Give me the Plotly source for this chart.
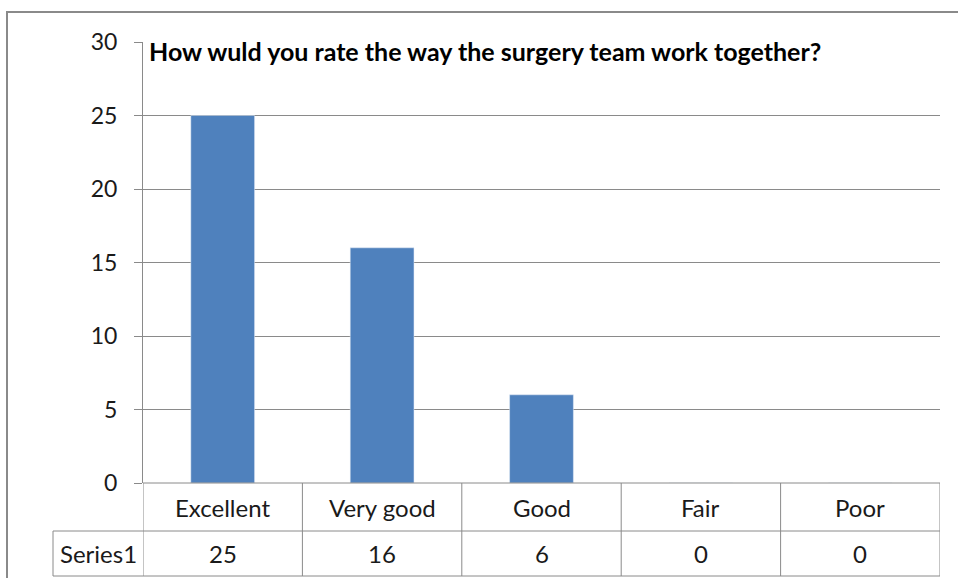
import plotly.graph_objects as go

categories = ["Excellent", "Very good", "Good", "Fair", "Poor"]
values = [25, 16, 6, 0, 0]
series_name = "Series1"
title_text = "How wuld you rate the way the surgery team work together?"
y_ticks = [0, 5, 10, 15, 20, 25, 30]

FONT = "Lato, 'Open Sans', sans-serif"
GRID = "#8a8a8a"
TXT = "#1a1a1a"

W, H = 958, 578
L, T = 143, 42
pw, ph = 797, 441
R = W - L - pw
B = H - T - ph

def py(pix):  # screenshot pixel -> paper y
    return (483 - pix) / ph

def px(pix):  # screenshot pixel -> paper x
    return (pix - 143) / pw

fig = go.Figure()
fig.add_trace(go.Bar(x=list(range(len(categories))), y=values, marker_color="#4F81BD",
                     width=0.4, name=series_name, showlegend=False))

shapes = []
# outer chart frame (only top and left edges visible)
shapes.append(dict(type="line", xref="paper", yref="paper", x0=px(6), x1=px(960), y0=py(12), y1=py(12),
                   line=dict(color="#8a8a8a", width=2), layer="below"))
shapes.append(dict(type="line", xref="paper", yref="paper", x0=px(7), x1=px(7), y0=py(11), y1=py(580),
                   line=dict(color="#8a8a8a", width=2), layer="below"))
row1 = py(531)
row2 = py(576)
for i in range(len(categories) + 1):
    shapes.append(dict(type="line", xref="x", yref="paper", x0=i - 0.5, x1=i - 0.5, y0=0, y1=row2,
                       line=dict(color=GRID, width=1)))
for yy in (row1, row2):
    shapes.append(dict(type="line", xref="paper", yref="paper", x0=px(53), x1=1, y0=yy, y1=yy,
                       line=dict(color=GRID, width=1)))
shapes.append(dict(type="line", xref="paper", yref="paper", x0=px(53), x1=px(53), y0=row1, y1=row2,
                   line=dict(color=GRID, width=1)))
shapes.append(dict(type="line", xref="paper", yref="paper", x0=0, x1=1, y0=0, y1=0,
                   line=dict(color=GRID, width=1)))

annotations = []
for i, (c, v) in enumerate(zip(categories, values)):
    annotations.append(dict(x=i, y=py(507), xref="x", yref="paper", text=c, showarrow=False,
                            xanchor="center", yanchor="middle",
                            font=dict(family=FONT, size=24, color=TXT)))
    annotations.append(dict(x=i, y=py(553), xref="x", yref="paper", text=str(v), showarrow=False,
                            xanchor="center", yanchor="middle",
                            font=dict(family=FONT, size=24, color=TXT)))
annotations.append(dict(x=px(98), y=py(553), xref="paper", yref="paper", text=series_name, showarrow=False,
                        xanchor="center", yanchor="middle",
                        font=dict(family=FONT, size=24, color=TXT)))
annotations.append(dict(x=px(147), y=py(51), xref="paper", yref="paper", text="<b>" + title_text + "</b>",
                        showarrow=False, xanchor="left", yanchor="middle",
                        font=dict(family=FONT, size=25, color="#000")))

fig.update_layout(
    width=W, height=H, margin=dict(l=L, r=R, t=T, b=B),
    paper_bgcolor="white", plot_bgcolor="white",
    shapes=shapes, annotations=annotations,
    xaxis=dict(range=[-0.5, len(categories) - 0.5], showticklabels=False, showgrid=False,
               zeroline=False, showline=False, ticks=""),
    yaxis=dict(range=[0, 30], tickvals=y_ticks, showgrid=True, gridcolor=GRID, gridwidth=1,
               zeroline=False, showline=True, linecolor=GRID, linewidth=1,
               ticks="outside", ticklen=8, tickcolor=GRID, ticklabelstandoff=12,
               tickfont=dict(family=FONT, size=23, color=TXT)),
    bargap=0.6,
)

fig.write_html("out.html", config={"displayModeBar": False},
               post_script="document.body.style.margin='0';document.body.style.overflow='hidden';"
                           "document.documentElement.style.overflow='hidden';")
